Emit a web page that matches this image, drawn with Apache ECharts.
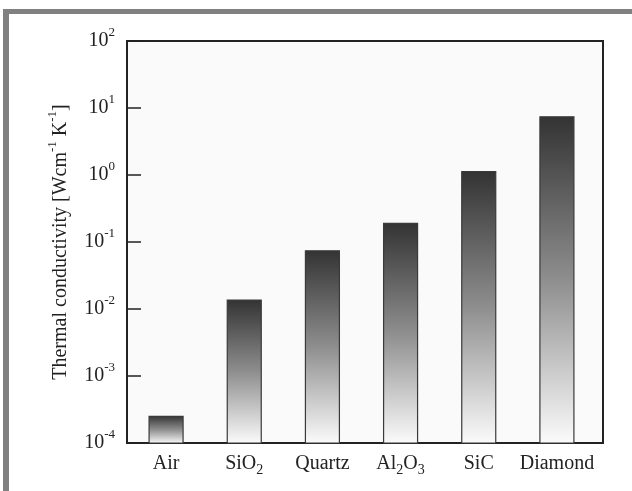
<!DOCTYPE html>
<html>
<head>
<meta charset="utf-8">
<script src="https://cdn.jsdelivr.net/npm/echarts@6/dist/echarts.min.js"></script>
<style>
  html, body { margin: 0; padding: 0; background: #ffffff; }
  #chart { width: 632px; height: 491px; }
</style>
</head>
<body>
<div id="chart"></div>
<script>
// Materials and their thermal conductivity (W cm^-1 K^-1)
const materials = ['Air', 'SiO2', 'Quartz', 'Al2O3', 'SiC', 'Diamond'];
// Rich-text versions of the category names (subscripted digits)
const materialLabels = ['Air', 'SiO{sub|2}', 'Quartz', 'Al{sub|2}O{sub|3}', 'SiC', 'Diamond'];
const conductivity = [0.00025, 0.0136, 0.074, 0.19, 1.12, 7.4];
// Decade exponents shown on the logarithmic axis
const yTickExponents = ['-4', '-3', '-2', '-1', '0', '1', '2'];
const axisFloor = 1e-4;

const serif = '"Liberation Serif", "DejaVu Serif", serif';
const ink = '#222222';

const chart = echarts.init(document.getElementById('chart'), null, { renderer: 'canvas' });

// Bars rise from the bottom of the log axis, so they are drawn as custom rects
function renderBar(params, api) {
  const cat = api.value(0);
  const top = api.coord([cat, api.value(1)]);
  const bottom = api.coord([cat, axisFloor]);
  const w = 34;
  return {
    type: 'rect',
    shape: { x: top[0] - w / 2, y: top[1], width: w, height: bottom[1] - top[1] },
    style: {
      fill: new echarts.graphic.LinearGradient(0, 0, 0, 1, [
        { offset: 0, color: '#333333' },
        { offset: 0.5, color: '#8e8e8e' },
        { offset: 1, color: '#fbfbfb' }
      ]),
      stroke: '#3a3a3a',
      lineWidth: 1.2
    }
  };
}

chart.setOption({
  animation: false,
  backgroundColor: '#ffffff',
  textStyle: { fontFamily: serif, color: ink },
  graphic: [
    // page frame: top and left gray bands
    { type: 'rect', left: 3, top: 9, shape: { width: 629, height: 5 }, style: { fill: '#808080' } },
    { type: 'rect', left: 3, top: 9, shape: { width: 6, height: 482 }, style: { fill: '#808080' } }
  ],
  grid: [
    { left: 127, top: 41, bottom: 48, width: 469, show: false },
    { left: 127, top: 41, bottom: 48, right: 29, show: true,
      borderColor: ink, borderWidth: 2, backgroundColor: '#fafafa', z: 0 }
  ],
  xAxis: [
    {
      type: 'category', gridIndex: 0, data: materials,
      axisLine: { show: false }, axisTick: { show: false },
      axisLabel: {
        interval: 0,
        margin: 11,
        color: ink,
        formatter: (v, i) => '{b|' + materialLabels[i].replace(/\{sub\|(\d)\}/g, '}{sub|$1}{b|') + '}',
        rich: {
          b: { fontFamily: serif, fontSize: 20, lineHeight: 20, verticalAlign: 'top', color: ink },
          sub: { fontFamily: serif, fontSize: 14, lineHeight: 14, padding: [9, 0, 0, 0], verticalAlign: 'top', color: ink }
        }
      }
    },
    { type: 'value', gridIndex: 1, show: false }
  ],
  yAxis: [
    {
      type: 'log', gridIndex: 0, logBase: 10, min: 1e-4, max: 100, interval: 1,
      axisLine: { show: false },
      axisTick: { show: true, inside: true, length: 14, lineStyle: { color: ink, width: 1.5 } },
      splitLine: { show: false },
      axisLabel: {
        margin: 12,
        color: ink,
        formatter: v => {
          const idx = Math.round(Math.log10(v)) + 4;
          return '{b|10}{sup|' + yTickExponents[idx] + '}';
        },
        rich: {
          b: { fontFamily: serif, fontSize: 20, lineHeight: 20, verticalAlign: 'bottom', color: ink },
          sup: { fontFamily: serif, fontSize: 13, lineHeight: 13, padding: [0, 0, 12, 0], verticalAlign: 'bottom', color: ink }
        }
      },
      name: '{b|Thermal conductivity [Wcm}{sup|-1}{b| K}{sup|-1}{b|]}',
      nameLocation: 'middle',
      nameGap: 56,
      nameTextStyle: {
        rich: {
          b: { fontFamily: serif, fontSize: 20, lineHeight: 20, verticalAlign: 'bottom', color: ink },
          sup: { fontFamily: serif, fontSize: 13, lineHeight: 13, padding: [0, 0, 12, 0], verticalAlign: 'bottom', color: ink }
        }
      }
    },
    { type: 'value', gridIndex: 1, show: false }
  ],
  series: [
    {
      type: 'custom',
      xAxisIndex: 0, yAxisIndex: 0,
      renderItem: renderBar,
      encode: { x: 0, y: 1 },
      data: conductivity.map((v, i) => [i, v]),
      z: 3
    }
  ]
});
</script>
</body>
</html>
